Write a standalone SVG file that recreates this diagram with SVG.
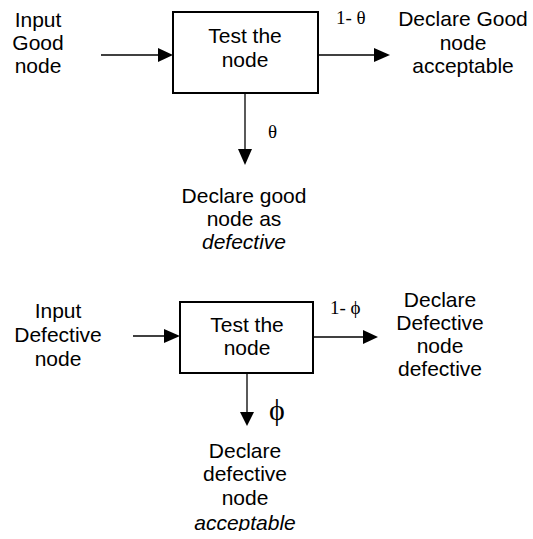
<svg xmlns="http://www.w3.org/2000/svg" width="533" height="539" viewBox="0 0 533 539">
<style>
.t{font-family:"Liberation Sans",Arial,sans-serif;font-size:21px;fill:#000;text-anchor:middle}
.g{font-family:"Liberation Serif","Times New Roman",serif;fill:#000}
.box{fill:#fff;stroke:#000;stroke-width:2}
.ln{stroke:#000;stroke-width:1.3;fill:none}
.ah{fill:#000}
</style>
<defs>
<clipPath id="cb"><rect x="0" y="0" width="533" height="531"/></clipPath>
</defs>
<rect width="533" height="539" fill="#fff"/>
<g id="connectors">
<line class="ln" x1="101" y1="55" x2="160" y2="55"/>
<polygon class="ah" points="158,48 173,55 158,62"/>
<line class="ln" x1="318" y1="55" x2="376" y2="55"/>
<polygon class="ah" points="374,48 390,55 374,62"/>
<line class="ln" x1="245" y1="93" x2="245" y2="151"/>
<polygon class="ah" points="238,149 245,165 252,149"/>
<line class="ln" x1="133" y1="336" x2="166" y2="336"/>
<polygon class="ah" points="164,329 180,336 164,343"/>
<line class="ln" x1="313" y1="337" x2="365" y2="337"/>
<polygon class="ah" points="363,330 378,337 363,344"/>
<line class="ln" x1="247" y1="372" x2="247" y2="414"/>
<polygon class="ah" points="240,412 247,426 254,412"/>
</g>
<g id="input-good">
<text class="t" x="38" y="27">Input</text>
<text class="t" x="38" y="50">Good</text>
<text class="t" x="38" y="73">node</text>
</g>
<g id="test-good">
<rect class="box" x="173" y="12" width="145" height="81"/>
<text class="t" x="245" y="43">Test the</text>
<text class="t" x="245" y="67">node</text>
</g>
<g id="label-1-theta"><text class="g" x="336" y="24" font-size="19">1- θ</text></g>
<g id="good-acceptable">
<text class="t" x="463" y="26">Declare Good</text>
<text class="t" x="463" y="50">node</text>
<text class="t" x="463" y="73">acceptable</text>
</g>
<g id="label-theta"><text class="g" x="268" y="138" font-size="19">θ</text></g>
<g id="good-defective">
<text class="t" x="244" y="203">Declare good</text>
<text class="t" x="244" y="226">node as</text>
<text class="t" x="244" y="249" font-style="italic">defective</text>
</g>
<g id="input-defective">
<text class="t" x="58" y="318">Input</text>
<text class="t" x="58" y="342">Defective</text>
<text class="t" x="58" y="366">node</text>
</g>
<g id="test-defective">
<rect class="box" x="180" y="302" width="133" height="71"/>
<text class="t" x="247" y="332">Test the</text>
<text class="t" x="247" y="355">node</text>
</g>
<g id="label-1-phi"><text class="g" x="330" y="314" font-size="19">1- ϕ</text></g>
<g id="defective-defective">
<text class="t" x="440" y="307">Declare</text>
<text class="t" x="440" y="330">Defective</text>
<text class="t" x="440" y="353">node</text>
<text class="t" x="440" y="376">defective</text>
</g>
<g id="label-phi"><text class="g" x="269" y="420" font-size="30">ϕ</text></g>
<g id="defective-acceptable">
<text class="t" x="245" y="458">Declare</text>
<text class="t" x="245" y="481">defective</text>
<text class="t" x="245" y="505">node</text>
<text class="t" x="245" y="530" font-style="italic" clip-path="url(#cb)">acceptable</text>
</g>
</svg>
